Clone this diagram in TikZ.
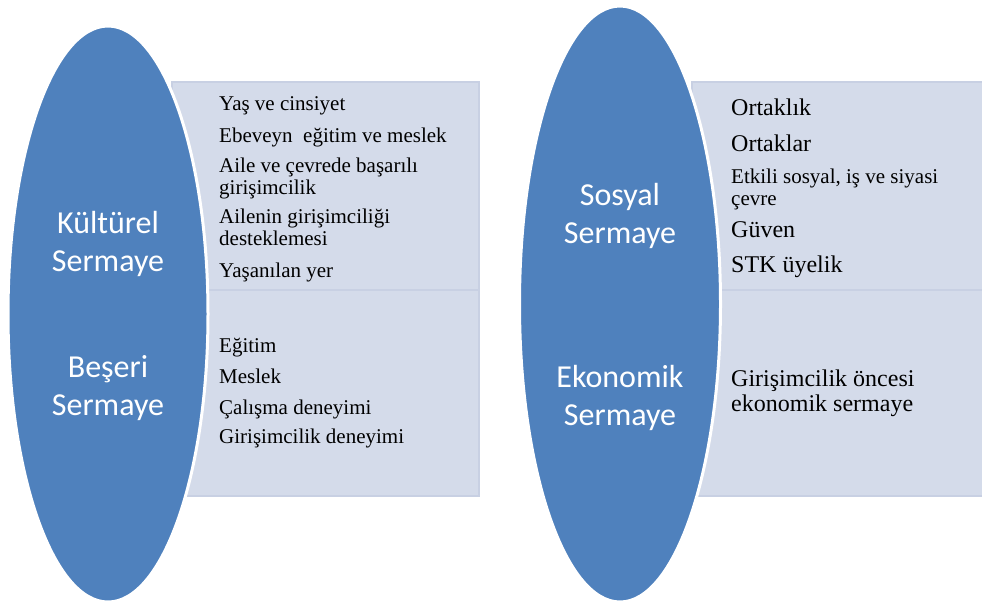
\documentclass[tikz,border=0pt]{standalone}
\usepackage{fontspec}
\setmainfont{Liberation Serif}
\setsansfont{Carlito}
\usetikzlibrary{shapes.geometric}
\definecolor{capblue}{HTML}{4F81BD}
\definecolor{boxfill}{HTML}{D4DBEA}
\definecolor{boxedge}{HTML}{C8D0E3}
\newcommand\stack[2][l]{\begin{tabular}[t]{@{}#1@{}}#2\end{tabular}}
\tikzset{
  capital/.style={ellipse, fill=capblue, draw=white, line width=3pt, inner sep=0},
  panel/.style={rectangle, fill=boxfill, draw=boxedge, line width=1.5pt, inner sep=0},
  caplabel/.style={anchor=base, inner sep=0, text=white, font=\sffamily\fontsize{32}{38}\selectfont},
  entry/.style={anchor=base west, inner sep=0, font=\fontsize{21}{22}\selectfont},
  bigentry/.style={entry, font=\fontsize{24}{25}\selectfont}
}
\begin{document}
\begin{tikzpicture}[x=1pt, y=-1pt]
 \useasboundingbox (0,0) rectangle (982,603);
 % panels behind the ellipses
 \node[panel, minimum width=307, minimum height=208] (kulturbox) at (325.5,186) {};
 \node[panel, minimum width=307, minimum height=206] (beseribox) at (325.5,393) {};
 \node[panel, minimum width=292, minimum height=208] (sosyalbox) at (838,186) {};
 \node[panel, minimum width=292, minimum height=206] (ekonomikbox) at (838,393) {};
 % ellipses
 \node[capital, minimum width=200, minimum height=576] (left) at (108,314) {};
 \node[capital, minimum width=201, minimum height=596] (right) at (620,304) {};
 % capital names
 \node[caplabel] (kultur) at (108,233) {\stack[c]{Kültürel\\Sermaye}};
 \node[caplabel] (beseri) at (108,377) {\stack[c]{Beşeri\\Sermaye}};
 \node[caplabel] (sosyal) at (620,205) {\stack[c]{Sosyal\\Sermaye}};
 \node[caplabel] (ekonomik) at (620,387) {\stack[c]{Ekonomik\\Sermaye}};
 % cultural
 \node[entry] (yas) at (219,110) {Yaş ve cinsiyet};
 \node[entry] (ebeveyn) at (219,142) {Ebeveyn\ \ eğitim ve meslek};
 \node[entry] (aile) at (219,172) {\stack{Aile ve çevrede başarılı\\girişimcilik}};
 \node[entry] (destek) at (219,223) {\stack{Ailenin girişimciliği\\desteklemesi}};
 \node[entry] (yer) at (219,277) {Yaşanılan yer};
 % human
 \node[entry] (egitim) at (219,352) {Eğitim};
 \node[entry] (meslek) at (219,383) {Meslek};
 \node[entry] (calisma) at (219,414) {Çalışma deneyimi};
 \node[entry] (girisim) at (219,443) {Girişimcilik deneyimi};
 % social
 \node[bigentry] (ortaklik) at (731,115) {Ortaklık};
 \node[bigentry] (ortaklar) at (731,151) {Ortaklar};
 \node[entry] (cevre) at (731,183) {\stack{Etkili sosyal, iş ve siyasi\\çevre}};
 \node[bigentry] (guven) at (731,237) {Güven};
 \node[bigentry] (stk) at (731,272) {STK üyelik};
 % economic
 \node[bigentry] (oncesi) at (731,386) {\stack{Girişimcilik öncesi\\ekonomik sermaye}};
\end{tikzpicture}
\end{document}
